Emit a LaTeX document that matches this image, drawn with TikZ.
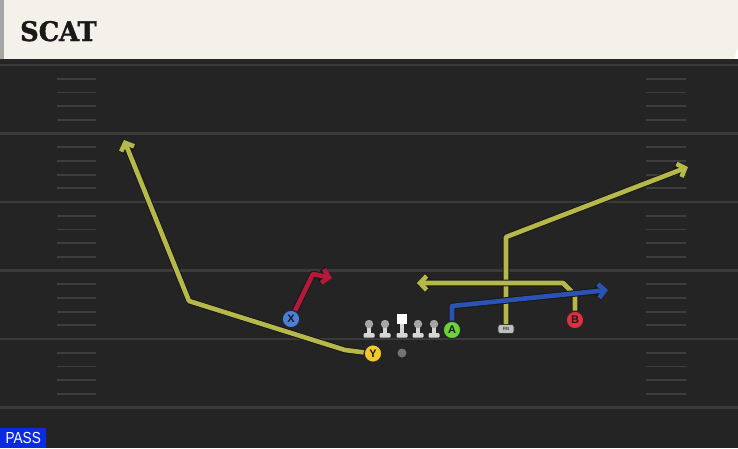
\documentclass[tikz,border=0pt]{standalone}
\usepackage{fontspec}
\setmainfont{Liberation Sans}
\newfontfamily\titlefont[FakeBold=1.5]{DejaVu Serif}
\usetikzlibrary{arrows.meta}
\definecolor{fieldbg}{HTML}{242424}
\definecolor{yardc}{HTML}{3A3A3A}
\definecolor{hashc}{HTML}{3E3E3E}
\definecolor{headc}{HTML}{F4F1EA}
\definecolor{passblue}{HTML}{0B2BE0}
\definecolor{ryellow}{HTML}{B6B84A}
\definecolor{rblue}{HTML}{2A53B3}
\definecolor{rred}{HTML}{B3193B}
\definecolor{pgreen}{HTML}{6DD23A}
\definecolor{pyellow}{HTML}{F3C72E}
\definecolor{pred}{HTML}{E0303F}
\definecolor{pblue}{HTML}{4B80D9}
\definecolor{linehead}{HTML}{A6A6A6}
\definecolor{linebody}{HTML}{D6D6D6}
\newcommand\playroute[2]{\draw[outl] #2; \draw[rt=#1] #2;}
\begin{document}
\begin{tikzpicture}[x=1pt,y=-1pt,
  yardline/.style={draw=yardc, line width=2.2pt},
  hashmark/.style={draw=hashc, line width=1.8pt},
  player/.style={circle, draw=black!85, line width=1.2pt, minimum size=17.5pt, inner sep=0pt,
    font=\fontsize{11}{11}\selectfont\bfseries, text=black!90},
  outl/.style={draw=black!90, line width=6.6pt, line join=round, -{Straight Barb[length=6.5pt,width=14pt]}},
  rt/.style={draw=#1, line width=4.6pt, line join=round, -{Straight Barb[length=6.5pt,width=14pt]}},
]
\useasboundingbox (0,0) rectangle (738,448);
% field
\fill[fieldbg] (0,59) rectangle (738,448);
% header
\fill[headc] (0,0) -- (738,0) -- (738,47) -- (734,59) -- (0,59) -- cycle;
\fill[black!35] (0,0) rectangle (4,59);
\fill[black!85] (0,59) rectangle (738,62);
\node[anchor=base west, inner sep=0pt, font=\titlefont\bfseries\fontsize{27}{27}\selectfont, text=black!90] (title) at (20,41) {\scalebox{0.95}[1]{SCAT}};
% yard lines and hash marks
\foreach \i in {0,...,5}{
  \draw[yardline] (0,65+68.5*\i) -- (738,65+68.5*\i);
}
\foreach \i in {0,...,4}{
  \foreach \k in {1,...,4}{
    \draw[hashmark] (57,65+68.5*\i+13.7*\k) -- (96,65+68.5*\i+13.7*\k);
    \draw[hashmark] (646,65+68.5*\i+13.7*\k) -- (686,65+68.5*\i+13.7*\k);
  }
}
% linemen
\foreach \x in {369,385,418,434}{
  \fill[linebody] (\x-2.2,326) rectangle (\x+2.2,334);
  \fill[linebody, rounded corners=1pt] (\x-5.5,333) rectangle (\x+5.5,337.5);
  \fill[linehead] (\x,324) circle (4.2);
}
\fill[linebody] (399.8,320) rectangle (404.2,334);
\fill[linebody, rounded corners=1pt] (396.5,333) rectangle (407.5,337.5);
\fill[white] (397,313.5) rectangle (407,323.5);
% ball
\node[circle, fill=black!55, minimum size=9pt, inner sep=0pt] (ball) at (402,353) {};
% players
\node[player, fill=pyellow] (Y) at (373,353.5) {Y};
\node[player, fill=pblue] (X) at (291,319) {X};
\node[player, fill=pgreen] (A) at (452,330) {A};
\node[player, fill=pred] (B) at (575,320) {B};
\node[rounded corners=2.5pt, fill=black!25, draw=black!80, line width=0.6pt, minimum width=16pt, minimum height=9pt, inner sep=0pt,
  font=\fontsize{4.5}{4.5}\selectfont\bfseries, text=black!70] (RB) at (506,329) {RB};
% routes
\playroute{ryellow}{(Y) -- (345,350) -- (189,301) -- (124,140)}
\playroute{ryellow}{(RB) -- (506,237) -- (688,167)}
\playroute{ryellow}{(B) -- (575,295) -- (563,283) -- (417,283)}
\playroute{rblue}{(A) -- (452,306) -- (608,290)}
\playroute{rred}{(X) -- (313,274) -- (332,278)}
% pass tag
\node[fill=passblue, anchor=south west, minimum width=46pt, minimum height=20pt, inner sep=0pt, text=white,
  font=\fontsize{16}{16}\selectfont] (pass) at (0,448) {\scalebox{0.85}[1]{PASS}};
\end{tikzpicture}
\end{document}
